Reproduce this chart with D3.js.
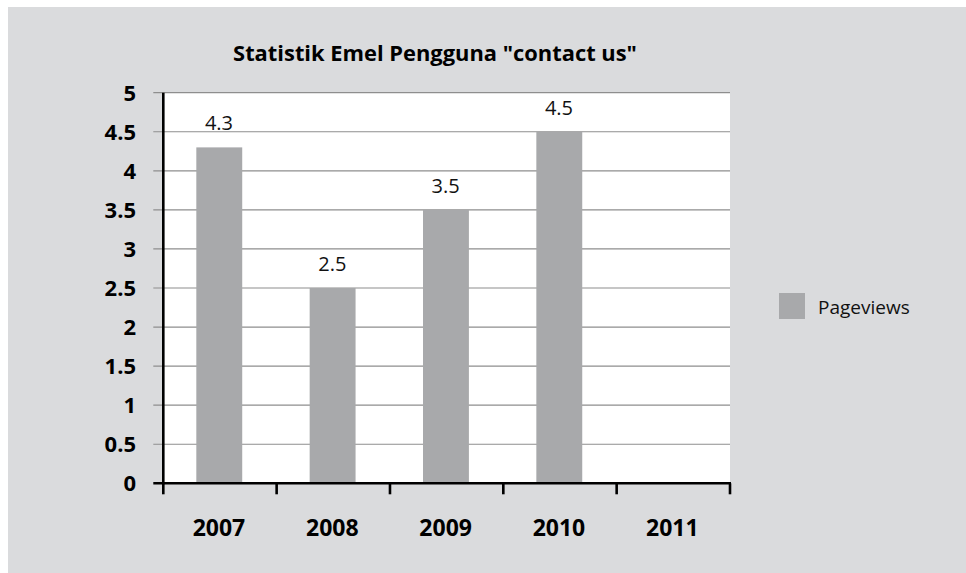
<!DOCTYPE html>
<html>
<head>
<meta charset="utf-8">
<script src="https://cdn.jsdelivr.net/npm/d3@7"></script>
<style>
  html, body { margin: 0; padding: 0; background: #ffffff; }
  svg { display: block; }
</style>
</head>
<body>
<svg id="chart" width="966" height="573"></svg>
<script>
// Chart data
const title = 'Statistik Emel Pengguna "contact us"';
const categories = ["2007", "2008", "2009", "2010", "2011"];
const pageviews = [4.3, 2.5, 3.5, 4.5, null];
const valueLabels = ["4.3", "2.5", "3.5", "4.5", ""];
const yTicks = [0, 0.5, 1, 1.5, 2, 2.5, 3, 3.5, 4, 4.5, 5];
const seriesName = "Pageviews";

const W = 966, H = 573;
const plot = { left: 163.3, right: 730, top: 92.7, bottom: 483.3 };

const svg = d3.select("#chart");
const font = "'Open Sans', 'DejaVu Sans', sans-serif";

// Chart frame background
svg.append("rect")
  .attr("x", 8).attr("y", 7)
  .attr("width", W - 8).attr("height", H - 7)
  .attr("fill", "#dadbdd");

// Plot area
svg.append("rect")
  .attr("x", plot.left).attr("y", plot.top)
  .attr("width", plot.right - plot.left).attr("height", plot.bottom - plot.top)
  .attr("fill", "#ffffff");

const x = d3.scaleBand()
  .domain(categories)
  .range([plot.left, plot.right])
  .padding(0);

const y = d3.scaleLinear()
  .domain([0, 5])
  .range([plot.bottom, plot.top]);

// Horizontal gridlines (extend left of the axis as tick marks)
svg.append("g")
  .selectAll("line")
  .data(yTicks.filter(d => d !== 0))
  .join("line")
  .attr("x1", plot.left - 10).attr("x2", plot.right)
  .attr("y1", d => y(d)).attr("y2", d => y(d))
  .attr("stroke", "#8e8e8e")
  .attr("stroke-width", 1.2);

const rows = categories.map((c, i) => ({ c, v: pageviews[i], label: valueLabels[i] }))
  .filter(d => d.v != null);

// Bars
const barW = x.bandwidth() * 0.405;
svg.append("g")
  .selectAll("rect")
  .data(rows)
  .join("rect")
  .attr("x", d => x(d.c) + x.bandwidth() / 2 - barW / 2 - 0.7)
  .attr("y", d => y(d.v))
  .attr("width", barW)
  .attr("height", d => y(0) - y(d.v))
  .attr("fill", "#a8a9ab");

// Value labels
svg.append("g")
  .selectAll("text")
  .data(rows)
  .join("text")
  .attr("x", d => x(d.c) + x.bandwidth() / 2 - 1)
  .attr("y", d => y(d.v) - 17)
  .attr("text-anchor", "middle")
  .attr("font-family", font)
  .attr("font-size", 20)
  .attr("fill", "#111")
  .text(d => d.label);

// Y axis line
svg.append("line")
  .attr("x1", plot.left).attr("x2", plot.left)
  .attr("y1", plot.top).attr("y2", plot.bottom + 1)
  .attr("stroke", "#000").attr("stroke-width", 2.6);

// X axis line with tick marks at category boundaries
svg.append("line")
  .attr("x1", plot.left - 10).attr("x2", plot.right + 1)
  .attr("y1", plot.bottom).attr("y2", plot.bottom)
  .attr("stroke", "#000").attr("stroke-width", 2.6);

const boundaries = categories.map(c => x(c)).concat([x(categories[categories.length - 1]) + x.bandwidth()]);
svg.append("g")
  .selectAll("line")
  .data(boundaries)
  .join("line")
  .attr("x1", d => d).attr("x2", d => d)
  .attr("y1", plot.bottom).attr("y2", plot.bottom + 11)
  .attr("stroke", "#000").attr("stroke-width", 2.6);

// Y tick labels
svg.append("g")
  .selectAll("text")
  .data(yTicks)
  .join("text")
  .attr("x", 136)
  .attr("y", d => y(d) + 8)
  .attr("text-anchor", "end")
  .attr("font-family", font)
  .attr("font-weight", "bold")
  .attr("font-size", 22)
  .attr("fill", "#000")
  .text(d => String(d));

// X tick labels
svg.append("g")
  .selectAll("text")
  .data(categories)
  .join("text")
  .attr("x", d => x(d) + x.bandwidth() / 2 - 1)
  .attr("y", 536)
  .attr("text-anchor", "middle")
  .attr("font-family", font)
  .attr("font-weight", "bold")
  .attr("font-size", 23)
  .attr("fill", "#000")
  .text(d => d);

// Title
const t = svg.append("text")
  .attr("x", 435)
  .attr("y", 61)
  .attr("text-anchor", "middle")
  .attr("font-family", font)
  .attr("font-weight", "bold")
  .attr("font-size", 20)
  .attr("fill", "#000")
  .text(title);
const tw = t.node().getComputedTextLength();
t.attr("font-size", 20 * 404 / tw);

// Legend
const lg = svg.append("g").attr("transform", "translate(779,293)");
lg.append("rect")
  .attr("width", 26).attr("height", 26)
  .attr("fill", "#a8a9ab");
lg.append("text")
  .attr("x", 39).attr("y", 21)
  .attr("font-family", font)
  .attr("font-size", 19)
  .attr("fill", "#111")
  .text(seriesName);
</script>
</body>
</html>
